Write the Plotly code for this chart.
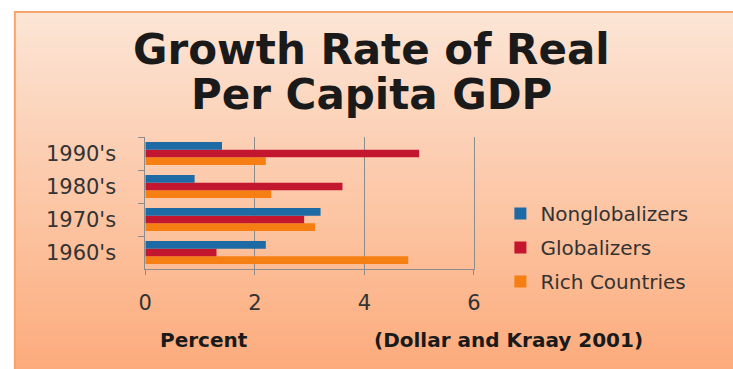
import plotly.graph_objects as go

categories = ["1960's", "1970's", "1980's", "1990's"]
nonglobalizers = [2.2, 3.2, 0.9, 1.4]
globalizers = [1.3, 2.9, 3.6, 5.0]
rich_countries = [4.8, 3.1, 2.3, 2.2]
x_ticks = [0, 2, 4, 6]

W, H = 733, 369
fig = go.Figure()

# traces added bottom-to-top within each group; legend rank gives display order
series = [
    ("Rich Countries", rich_countries, "#f57f12", "g3", 3),
    ("Globalizers", globalizers, "#c3162f", "g2", 2),
    ("Nonglobalizers", nonglobalizers, "#1d6aa5", "g1", 1),
]
for name, vals, col, grp, rank in series:
    fig.add_trace(go.Bar(
        y=categories, x=vals, name=name, orientation="h",
        marker=dict(color=col, line=dict(width=0)),
        legendgroup=grp, legendrank=rank,
    ))

# gradient background box
shapes = []
top_px, bot_px, left_px = 12, 372, 8
n = 60
c0 = (253, 229, 214)
c1 = (252, 172, 124)
for i in range(n):
    t = i / (n - 1)
    c = tuple(int(c0[k] + (c1[k] - c0[k]) * t) for k in range(3))
    y_top = top_px + (bot_px - top_px) * i / n
    y_bot = top_px + (bot_px - top_px) * (i + 1) / n + 0.6
    shapes.append(dict(
        type="rect", xref="paper", yref="paper", layer="below",
        x0=left_px / W, x1=1.01, y0=1 - y_bot / H, y1=1 - y_top / H,
        fillcolor="rgb(%d,%d,%d)" % c, line=dict(width=0),
    ))
shapes.append(dict(
    type="rect", xref="paper", yref="paper", layer="below",
    x0=left_px / W, x1=1.02, y0=-0.02, y1=1 - top_px / H,
    fillcolor="rgba(0,0,0,0)", line=dict(width=2, color="#f6a46c"),
))

def ann(text, xpx, ypx, size):
    return dict(text=text, x=xpx / W, y=1 - ypx / H, xref="paper", yref="paper",
                xanchor="center", yanchor="middle", showarrow=False,
                font=dict(family="DejaVu Sans", size=size, color="#1a1a1a"))

annotations = [
    ann("<b>Growth Rate of Real</b>", 372, 50, 42),
    ann("<b>Per Capita GDP</b>", 372, 95, 42),
    ann("<b>Percent</b>", 201, 340, 20),
    ann("<b>(Dollar and Kraay 2001)</b>", 511, 340, 20),
]

fig.update_layout(
    width=W, height=H,
    margin=dict(l=0, r=0, t=0, b=0),
    paper_bgcolor="white",
    plot_bgcolor="white",
    barmode="group",
    bargap=0.3,
    bargroupgap=0,
    shapes=shapes,
    annotations=annotations,
    font=dict(family="DejaVu Sans", size=20, color="#333333"),
    legend=dict(
        x=503 / W, y=1 - 194 / H, xanchor="left", yanchor="top",
        traceorder="grouped", tracegroupgap=5,
        bgcolor="rgba(0,0,0,0)", font=dict(size=20, color="#333333"),
        itemwidth=30,
    ),
    xaxis=dict(
        domain=[141 / W, 476 / W], range=[0, 6], tickvals=x_ticks,
        showgrid=True, gridcolor="#8c8c8c", gridwidth=1,
        showline=True, linecolor="#8c8c8c", mirror=False,
        ticks="outside", ticklen=5, tickcolor="#8c8c8c",
        zeroline=False, ticklabelstandoff=10,
        tickfont=dict(size=21),
    ),
    yaxis=dict(
        domain=[1 - 269 / H, 1 - 137 / H],
        categoryorder="array", categoryarray=categories,
        showline=True, linecolor="#8c8c8c", mirror=True,
        ticks="outside", ticklen=6, tickcolor="#8c8c8c",
        tickson="boundaries", showgrid=False, ticklabelstandoff=24,
        tickfont=dict(size=21),
    ),
)

fig.write_html("out.html")
